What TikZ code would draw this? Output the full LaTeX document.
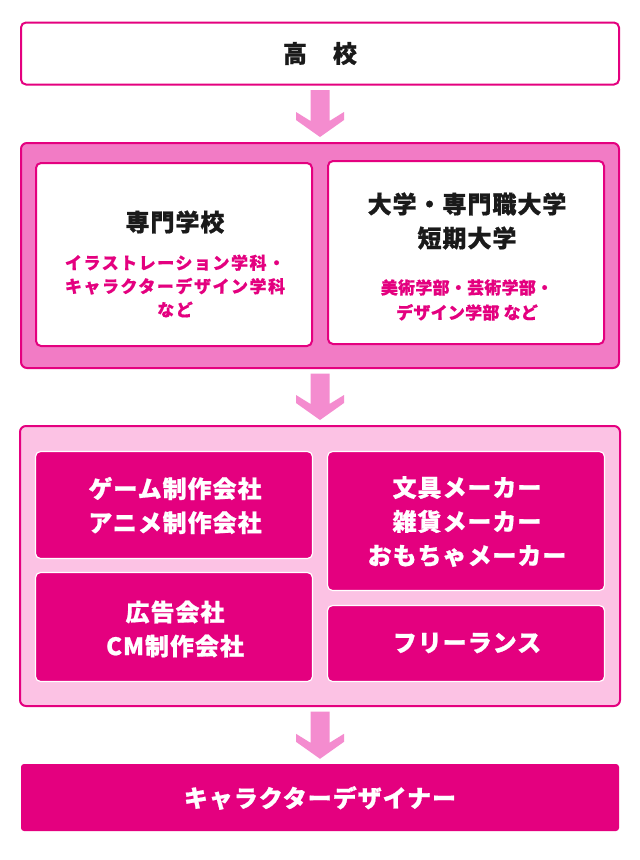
\documentclass[tikz,border=0pt]{standalone}
\usepackage{fontspec}
\setmainfont{Noto Sans CJK JP}
\newfontfamily\jpT{Noto Sans CJK JP}[LetterSpace=4, BoldFeatures={FakeBold=0.8}]
\newfontfamily\jpL{Noto Sans CJK JP}[LetterSpace=9, BoldFeatures={FakeBold=0.6}]
\newfontfamily\jpR{Noto Sans CJK JP}[LetterSpace=1.5, BoldFeatures={FakeBold=0.6}]
\usetikzlibrary{calc}
\definecolor{mag}{HTML}{E4007F}
\definecolor{midfill}{HTML}{F27BC5}
\definecolor{arrowc}{HTML}{F48CCF}
\definecolor{lightfill}{HTML}{FCC2E4}
\definecolor{ink}{HTML}{1A1A1A}
\tikzset{
  whitebox/.style={draw=mag, line width=2pt, fill=white, rounded corners=5pt, inner sep=0pt},
  groupbox/.style={draw=mag, line width=2pt, rounded corners=6pt, inner sep=0pt},
  magbox/.style={draw=white, line width=1.2pt, fill=mag, rounded corners=5pt, inner sep=0pt},
  maintext/.style={font=\jpT\bfseries\fontsize{24}{34}\selectfont, align=center, inner sep=0pt},
  blacktext/.style={maintext, text=ink},
  whitetext/.style={maintext, text=white},
  pinkL/.style={font=\jpL\bfseries\fontsize{17}{23.5}\selectfont, text=mag, align=center, inner sep=0pt},
  pinkR/.style={font=\jpR\bfseries\fontsize{17}{25}\selectfont, text=mag, align=center, inner sep=0pt},
}
\newcommand\fatarrow[2]{%
  \fill[arrowc] let \p1=(#1.south), \p2=(#2.north) in
    (\x1-9.5pt,\y1-4.5pt) -- (\x1+9.5pt,\y1-4.5pt) -- (\x1+9.5pt,\y2+21pt)
    -- (\x1+24pt,\y2+30pt) -- (\x1+24pt,\y2+22pt) -- (\x1,\y2+5pt)
    -- (\x1-24pt,\y2+22pt) -- (\x1-24pt,\y2+30pt) -- (\x1-9.5pt,\y2+21pt) -- cycle;}
\begin{document}
\begin{tikzpicture}[x=1pt,y=-1pt]
\useasboundingbox (0,0) rectangle (640,860);
\fill[white] (0,0) rectangle (640,860);

% High school
\node[whitebox, minimum width=598pt, minimum height=62pt] (hs) at (320,53.5) {};
\node[blacktext] (hst) at (320,53.5) {高　校};

% Schools group
\node[groupbox, fill=midfill, minimum width=598pt, minimum height=225pt] (mid) at (320,255.5) {};
\node[whitebox, minimum width=276pt, minimum height=183pt] (lw) at (174,254.5) {};
\node[whitebox, minimum width=276pt, minimum height=183pt] (rw) at (466,252.5) {};
\node[blacktext] (lwt) at (175,222) {専門学校};
\node[pinkL] (lws) at (175,286) {イラストレーション学科・\\キャラクターデザイン学科\\など};
\node[blacktext] (rwt) at (467,221) {大学・専門職大学\\短期大学};
\node[pinkR] (rws) at (467,300) {美術学部・芸術学部・\\デザイン学部 など};

% Companies group
\node[groupbox, fill=lightfill, minimum width=600pt, minimum height=280pt] (light) at (320,566) {};
\node[magbox, minimum width=277pt, minimum height=107pt] (tl) at (174,505) {};
\node[magbox, minimum width=277pt, minimum height=109pt] (bl) at (174,627) {};
\node[magbox, minimum width=277pt, minimum height=139pt] (tr) at (466,521) {};
\node[magbox, minimum width=277pt, minimum height=76pt] (br) at (466,643.5) {};
\node[whitetext] (tlt) at (175,505.5) {ゲーム制作会社\\アニメ制作会社};
\node[whitetext] (blt) at (175,629) {広告会社\\CM制作会社};
\node[whitetext] (trt) at (467,521.5) {文具メーカー\\雑貨メーカー\\おもちゃメーカー};
\node[whitetext] (brt) at (467,643) {フリーランス};

% Final
\node[fill=mag, rounded corners=3pt, inner sep=0pt, minimum width=598pt, minimum height=67pt] (bot) at (320,797.5) {};
\node[whitetext] (bott) at (320,798) {キャラクターデザイナー};

% Arrows
\fatarrow{hs}{mid}
\fatarrow{mid}{light}
\fatarrow{light}{bot}
\end{tikzpicture}
\end{document}
